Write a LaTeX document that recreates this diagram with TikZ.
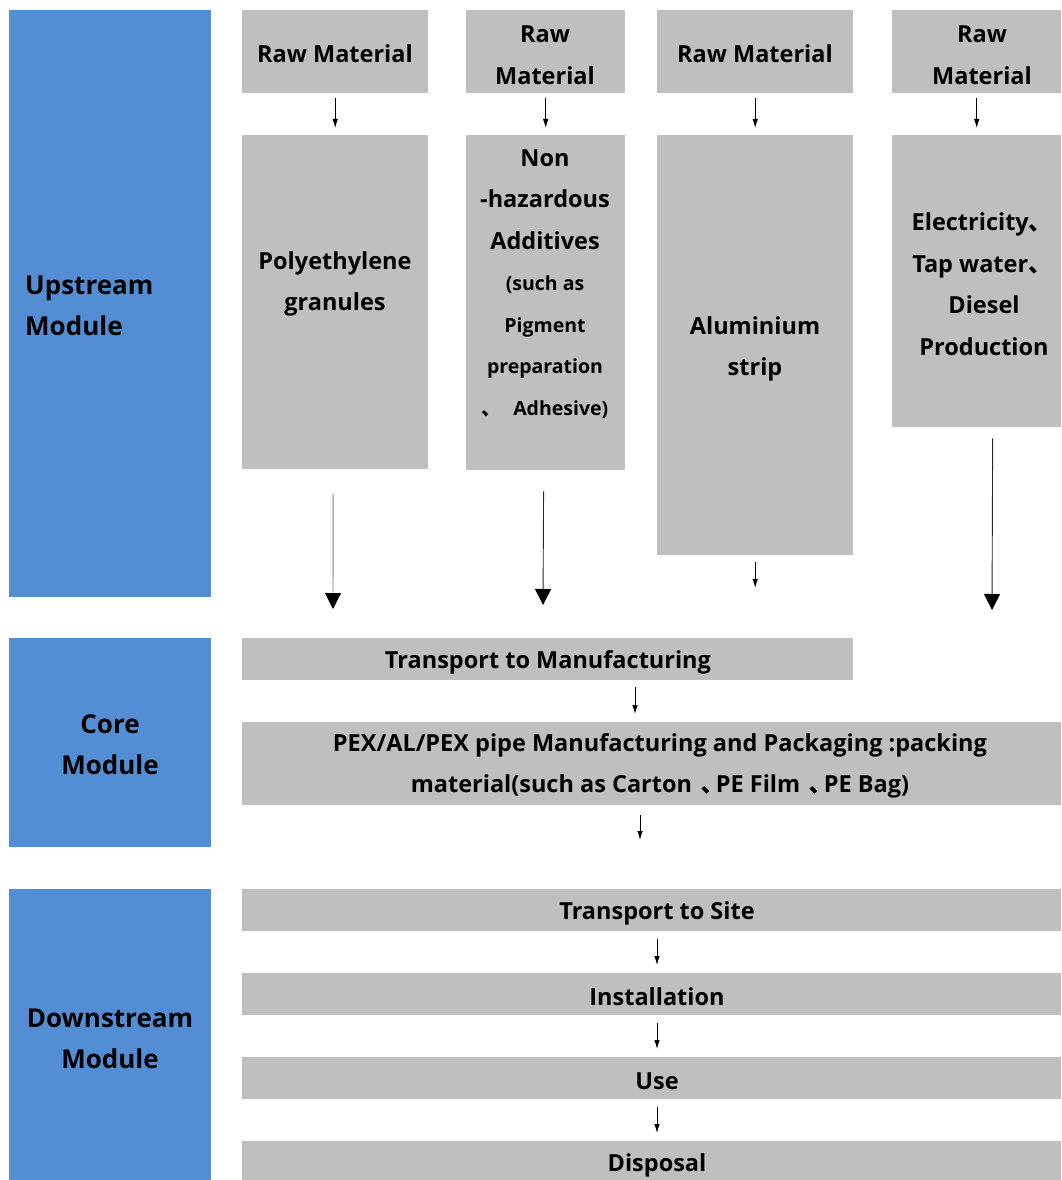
\documentclass[tikz,border=0pt]{standalone}
\usepackage{fontspec}
\setmainfont{Open Sans}
\newfontfamily\cjk{Noto Sans CJK SC}
\usetikzlibrary{arrows.meta,calc}
\definecolor{modblue}{RGB}{83,142,213}
\definecolor{boxgrey}{RGB}{191,191,191}
\newcommand{\dun}{{\cjk 、}}
\newcommand{\hdun}{{\cjk ､}}
\newcommand{\smf}{\fontsize{19.5}{41.5}\selectfont}
\begin{document}
\begin{tikzpicture}[x=1pt,y=-1pt,
  mod/.style={fill=modblue,draw=none,inner sep=0,anchor=north west},
  gbox/.style={fill=boxgrey,draw=none,inner sep=0,anchor=north west},
  txt/.style={font=\bfseries\fontsize{23.5}{41.5}\selectfont,align=center,inner sep=0,text=black},
  mtxt/.style={font=\bfseries\fontsize{26}{41}\selectfont,inner sep=0,text=black},
  sarrow/.style={-{Latex[length=9pt,width=5.5pt]},line width=0.9pt},
  barrow/.style={-{Triangle[length=16pt,width=16pt,black]},line width=0.9pt}]
\useasboundingbox (0,0) rectangle (1061,1180);
% module boxes
\node[mod,minimum width=202,minimum height=587] (up) at (9,10) {};
\node[mod,minimum width=202,minimum height=209] (core) at (9,638) {};
\node[mod,minimum width=202,minimum height=291] (down) at (9,889) {};
\node[mtxt,anchor=west,align=left] (upt) at (25,306) {Upstream\\Module};
\node[mtxt,align=center] (coret) at (110,745) {Core\\Module};
\node[mtxt,align=center] (downt) at (110,1039) {Downstream\\Module};
% raw material boxes
\node[gbox,minimum width=186,minimum height=83] (r1) at (242,10) {};
\node[gbox,minimum width=159,minimum height=83] (r2) at (466,10) {};
\node[gbox,minimum width=196,minimum height=83] (r3) at (657,10) {};
\node[gbox,minimum width=169,minimum height=83] (r4) at (892,10) {};
\node[txt] (r1t) at (335,54) {Raw Material};
\node[txt] (r2t) at (545,55) {Raw\\Material};
\node[txt] (r3t) at (755,54) {Raw Material};
\node[txt] (r4t) at (982,55) {Raw\\Material};
% material boxes
\node[gbox,minimum width=186,minimum height=334] (pe) at (242,135) {};
\node[gbox,minimum width=159,minimum height=335] (ad) at (466,135) {};
\node[gbox,minimum width=196,minimum height=420] (al) at (657,135) {};
\node[gbox,minimum width=169,minimum height=292] (el) at (892,135) {};
\node[txt] (pet) at (335,284) {Polyethylene\\granules};
\node[txt] (adt) at (545,284) {Non\\-hazardous\\Additives\\{\smf(such as}\\{\smf Pigment}\\{\smf preparation}\\{\smf\dun\hspace{12pt}Adhesive)}};
\node[txt] (alt) at (755,349) {Aluminium\\strip};
\node[txt] (elt) at (982,284) {Electricity\dun\\Tap water\dun\\\hspace{4pt}Diesel\\\hspace{4pt}Production};
% core
\node[gbox,minimum width=611,minimum height=42] (tm) at (242,638) {};
\node[txt] (tmt) at (548,662) {Transport to Manufacturing};
\node[gbox,minimum width=819,minimum height=83] (pex) at (242,722) {};
\node[txt] (pext) at (660,766) {PEX/AL/PEX pipe Manufacturing and Packaging :packing\\material(such as Carton\hspace{9pt}\hdun\hspace{3pt}PE Film\hspace{9pt}\hdun\hspace{3pt}PE Bag)};
% downstream
\node[gbox,minimum width=819,minimum height=42] (ts) at (242,889) {};
\node[gbox,minimum width=819,minimum height=42] (ins) at (242,973) {};
\node[gbox,minimum width=819,minimum height=42] (use) at (242,1057) {};
\node[gbox,minimum width=819,minimum height=40] (dis) at (242,1141) {};
\node[txt] (tst) at (657,913) {Transport to Site};
\node[txt] (inst) at (657,997) {Installation};
\node[txt] (uset) at (657,1081) {Use};
\node[txt] (dist) at (657,1165) {Disposal};
% small arrows raw -> material
\draw[sarrow,shorten <=5pt,shorten >=7pt] (r1.south) -- (pe.north);
\draw[sarrow,shorten <=5pt,shorten >=7pt] (r2.south) -- (ad.north);
\draw[sarrow,shorten <=5pt,shorten >=7pt] (r3.south) -- (al.north);
\draw[sarrow,shorten <=5pt,shorten >=7pt] (r4.south) -- (el.north);
% big arrows to transport
\coordinate (e1) at (333,609);
\coordinate (e2) at (543,605);
\coordinate (e4) at (992,610);
\draw[barrow,draw=black!50,shorten <=25pt] ([xshift=-2pt]pe.south) -- (e1);
\draw[barrow,draw=black!85,shorten <=21pt] ([xshift=-2pt]ad.south) -- (e2);
\draw[sarrow,shorten <=7pt,shorten >=50pt] (al.south) -- (tm.north -| al.south);
\draw[barrow,draw=black!85,shorten <=11pt] ([xshift=16pt]el.south) -- (e4);
% core arrows
\draw[sarrow,shorten <=7pt,shorten >=8pt] (tm.south -| 635,0) -- (pex.north -| 635,0);
\coordinate (e5) at (640,840);
\draw[sarrow,shorten <=10pt] (pex.south -| e5) -- (e5);
% downstream arrows
\draw[sarrow,shorten <=8pt,shorten >=8pt] (ts.south -| 657,0) -- (ins.north -| 657,0);
\draw[sarrow,shorten <=8pt,shorten >=8pt] (ins.south -| 657,0) -- (use.north -| 657,0);
\draw[sarrow,shorten <=8pt,shorten >=8pt] (use.south -| 657,0) -- (dis.north -| 657,0);
\end{tikzpicture}
\end{document}
